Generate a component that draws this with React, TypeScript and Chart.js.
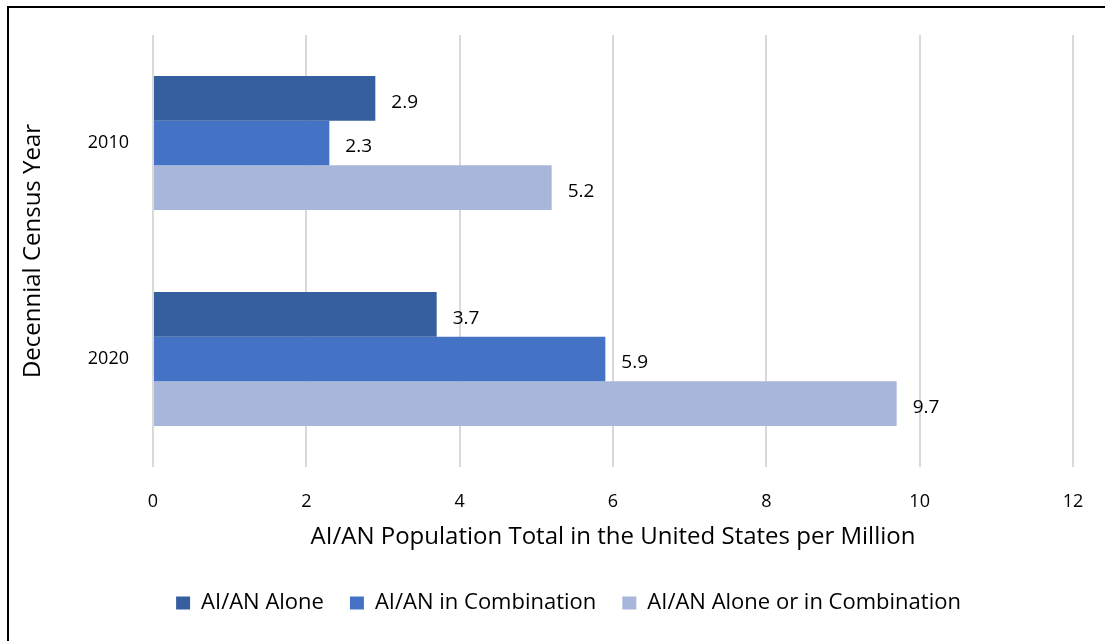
import React, { useEffect, useRef } from "react";
import { Chart, registerables } from "chart.js";

Chart.register(...registerables);

const categories = ["2010", "2020"];
const seriesNames = ["AI/AN Alone", "AI/AN in Combination", "AI/AN Alone or in Combination"];
const aloneValues = [2.9, 3.7];
const combinationValues = [2.3, 5.9];
const aloneOrCombinationValues = [5.2, 9.7];
const xTicks = [0, 2, 4, 6, 8, 10, 12];
const colors = ["#365F9F", "#4472C4", "#A8B6DA"];
const xTitle = "AI/AN Population Total in the United States per Million";
const yTitle = "Decennial Census Year";

const FONT = "'Open Sans', sans-serif";

const dataLabelPlugin = {
  id: "dataLabels",
  afterLayout(chart: any) {
    const lg = chart.legend;
    if (lg) {
      lg.left += 32;
      lg.right += 32;
    }
  },
  afterDatasetsDraw(chart: any) {
    const ctx = chart.ctx;
    ctx.save();
    ctx.font = `19px ${FONT}`;
    ctx.fillStyle = "#000";
    ctx.textAlign = "left";
    ctx.textBaseline = "middle";
    chart.data.datasets.forEach((ds: any, di: number) => {
      const meta = chart.getDatasetMeta(di);
      meta.data.forEach((bar: any, i: number) => {
        ctx.fillText(String(ds.data[i].toFixed(1)), bar.x + 16, bar.y + 4);
      });
    });
    ctx.restore();
  },
};

export default function App() {
  const ref = useRef<HTMLCanvasElement | null>(null);
  useEffect(() => {
    document.body.style.margin = "0";
    document.body.style.overflow = "hidden";
    const chart = new Chart(ref.current!, {
      type: "bar",
      data: {
        labels: categories,
        datasets: [
          { label: seriesNames[0], data: aloneValues, backgroundColor: colors[0] },
          { label: seriesNames[1], data: combinationValues, backgroundColor: colors[1] },
          { label: seriesNames[2], data: aloneOrCombinationValues, backgroundColor: colors[2] },
        ],
      },
      options: {
        indexAxis: "y",
        animation: false,
        responsive: false,
        maintainAspectRatio: false,
        datasets: { bar: { barPercentage: 1, categoryPercentage: 0.62 } },
        layout: { padding: { top: 35, right: 63, left: 0, bottom: 17 } },
        plugins: {
          tooltip: { enabled: false },
          legend: {
            position: "bottom",
            labels: {
              font: { family: FONT, size: 22 },
              color: "#000",
              boxWidth: 14,
              boxHeight: 13,
              padding: 26,
              generateLabels: (chart: any) =>
                chart.data.datasets.map((ds: any, i: number) => ({
                  text: ds.label,
                  fillStyle: ds.backgroundColor,
                  strokeStyle: ds.backgroundColor,
                  lineWidth: 0,
                  fontColor: "#000",
                  datasetIndex: i,
                })),
            },
          },
        },
        scales: {
          x: {
            min: 0,
            max: 12,
            afterBuildTicks: (scale: any) => {
              scale.ticks = xTicks.map((v) => ({ value: v }));
            },
            afterFit: (scale: any) => {
              scale.height = 99;
            },
            grid: { color: "#d9d9d9", lineWidth: 2, drawTicks: false },
            border: { display: false },
            ticks: { font: { family: FONT, size: 18 }, color: "#000", padding: 24 },
            title: {
              display: true,
              text: xTitle,
              font: { family: FONT, size: 24 },
              color: "#000",
              padding: { top: 0, bottom: 14 },
            },
          },
          y: {
            afterFit: (scale: any) => {
              scale.width = 153;
            },
            grid: { display: false, drawTicks: false },
            border: { display: false },
            ticks: { font: { family: FONT, size: 18 }, color: "#000", padding: 24 },
            title: {
              display: true,
              text: yTitle,
              font: { family: FONT, size: 24 },
              color: "#000",
              padding: { top: 19, bottom: 4 },
            },
          },
        },
      },
      plugins: [dataLabelPlugin],
    });
    return () => chart.destroy();
  }, []);
  return (
    <div style={{ position: "fixed", left: 0, top: 0, width: 1105, height: 641, overflow: "hidden", background: "#fff" }}>
      <canvas ref={ref} width={1136} height={641} style={{ position: "absolute", left: 0, top: 0 }} />
      <div
        style={{
          position: "absolute",
          left: 7,
          top: 6,
          width: 1200,
          height: 700,
          borderLeft: "2px solid #000",
          borderTop: "2px solid #000",
          pointerEvents: "none",
        }}
      />
    </div>
  );
}
